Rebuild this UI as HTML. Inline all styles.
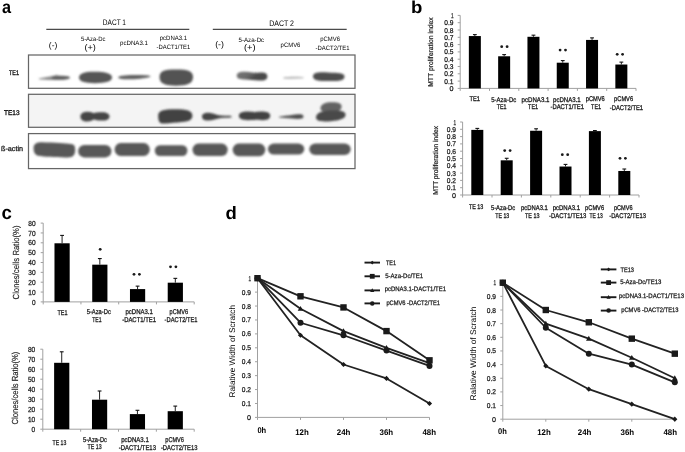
<!DOCTYPE html>
<html><head><meta charset="utf-8"><style>
html,body{margin:0;padding:0;background:#fff;width:685px;height:452px;overflow:hidden}
svg{display:block;font-family:"Liberation Sans", sans-serif;will-change:transform;text-rendering:geometricPrecision}
</style></head><body>
<svg width="685" height="452" viewBox="0 0 685 452">
<defs><linearGradient id="g1" x1="0" y1="0" x2="1" y2="0.3"><stop offset="0" stop-color="#777"/><stop offset="0.45" stop-color="#6a6a6a"/><stop offset="0.7" stop-color="#4c4c4c"/><stop offset="1" stop-color="#484848"/></linearGradient><filter id="bl" x="-20%" y="-50%" width="140%" height="200%"><feGaussianBlur stdDeviation="0.9"/></filter></defs>
<rect width="685" height="452" fill="#fff"/>
<text x="0" y="0" font-size="18.5" font-weight="bold" fill="#000" transform="translate(2.1 12.9) scale(0.88 0.96)">a</text>
<text x="102.80" y="24.80" font-size="8" textLength="23.20" lengthAdjust="spacingAndGlyphs">DACT 1</text>
<text x="269.20" y="26.00" font-size="8" textLength="24.80" lengthAdjust="spacingAndGlyphs">DACT 2</text>
<line x1="46.30" y1="29.30" x2="189.30" y2="29.30" stroke="#4a4a4a" stroke-width="1.2"/>
<line x1="212.80" y1="29.30" x2="346.70" y2="29.30" stroke="#4a4a4a" stroke-width="1.2"/>
<text x="48.80" y="47.60" font-size="8.2" textLength="8.50" lengthAdjust="spacingAndGlyphs">(-)</text>
<text x="80.90" y="40.60" font-size="6.3" textLength="24.50" lengthAdjust="spacingAndGlyphs">5-Aza-Dc</text>
<text x="84.40" y="49.90" font-size="8.2" textLength="11.40" lengthAdjust="spacingAndGlyphs">(+)</text>
<text x="120.10" y="44.60" font-size="6.3" textLength="27.80" lengthAdjust="spacingAndGlyphs">pcDNA3.1</text>
<text x="159.70" y="40.00" font-size="6.3" textLength="27.40" lengthAdjust="spacingAndGlyphs">pcDNA3.1</text>
<text x="156.60" y="48.70" font-size="6.3" textLength="33.60" lengthAdjust="spacingAndGlyphs">-DACT1/TE1</text>
<text x="215.20" y="47.00" font-size="8.2" textLength="8.80" lengthAdjust="spacingAndGlyphs">(-)</text>
<text x="238.50" y="42.00" font-size="6.3" textLength="25.70" lengthAdjust="spacingAndGlyphs">5-Aza-Dc</text>
<text x="243.90" y="50.30" font-size="8.2" textLength="11.70" lengthAdjust="spacingAndGlyphs">(+)</text>
<text x="280.60" y="47.40" font-size="6.3" textLength="19.80" lengthAdjust="spacingAndGlyphs">pCMV6</text>
<text x="320.30" y="41.00" font-size="6.3" textLength="19.70" lengthAdjust="spacingAndGlyphs">pCMV6</text>
<text x="315.60" y="49.70" font-size="6.3" textLength="33.90" lengthAdjust="spacingAndGlyphs">-DACT2/TE1</text>
<text x="9.00" y="74.50" font-size="6.7" fill="#1a1a1a" textLength="10.00" lengthAdjust="spacingAndGlyphs" stroke="#1a1a1a" stroke-width="0.35">TE1</text>
<text x="4.00" y="115.30" font-size="6.9" fill="#1a1a1a" textLength="15.50" lengthAdjust="spacingAndGlyphs" stroke="#1a1a1a" stroke-width="0.35">TE13</text>
<text x="1.00" y="151.20" font-size="7.2" fill="#1a1a1a" textLength="22.00" lengthAdjust="spacingAndGlyphs" stroke="#1a1a1a" stroke-width="0.3">ß-actin</text>
<rect x="28.5" y="55.0" width="326.5" height="33.3" fill="#fff" stroke="#666" stroke-width="1.25"/>
<rect x="28.5" y="94.3" width="326.5" height="33.0" fill="#f4f4f4" stroke="#666" stroke-width="1.25"/>
<rect x="28.5" y="133.6" width="326.5" height="35.0" fill="#fff" stroke="#666" stroke-width="1.25"/>
<g filter="url(#bl)">
<path d="M38.8 78.4 C 44 77.6, 50 76.6, 55 75.6 C 56 74.6, 57 74.6, 58 75.6 C 63 75.8, 69 76.2, 69.9 77.6 C 70 79.0, 66 79.6, 60 79.8 C 52 80.0, 44 79.8, 38.8 79.2 Z" fill="#8a8a8a" opacity="1"/>
<path d="M52 76.6 C 58 75.6, 66 75.8, 69.9 77.0 C 70.2 78.6, 68 79.6, 60 79.8 C 55 79.9, 52 79.4, 52 78.3 Z" fill="#5e5e5e" opacity="1"/>
<path d="M79.0 77.6 C 79.0 73.6, 84 71.8, 94 71.8 C 106 71.8, 112 73.8, 112 77.6 C 112 81.4, 106 83.2, 95 83.2 C 84 83.2, 79.0 81.4, 79.0 77.6 Z" fill="#555" opacity="1"/>
<path d="M118.2 77.6 C 118.2 75.8, 124 75.0, 134 74.9 C 143 74.8, 150.5 75.2, 150.5 76.2 C 150.5 77.4, 143 78.6, 134 79.2 C 124 79.6, 118.2 79.2, 118.2 77.6 Z" fill="#606060" opacity="1"/>
<path d="M159.5 77.0 C 159.5 71.0, 164 69.4, 176 69.4 C 188 69.4, 193.0 71.0, 193.0 77.0 C 193.0 83.6, 187 85.7, 176 85.7 C 165 85.7, 159.5 83.6, 159.5 77.0 Z" fill="#525252" opacity="1"/>
<path d="M236.8 75.6 C 236.8 72.4, 240 71.4, 246 71.8 C 252 72.4, 256 73.2, 260 72.6 C 265 72.0, 267.4 73.6, 267.4 76.4 C 267.4 79.6, 264 80.8, 259 80.6 C 254 80.2, 250 79.4, 245 79.4 C 239 79.6, 236.8 78.6, 236.8 75.6 Z" fill="url(#g1)" opacity="1"/>
<path d="M283.3 77.4 C 289 76.5, 297 76.6, 303.6 77.2 L 303.6 78.3 C 297 78.8, 289 78.8, 283.3 78.4 Z" fill="#b4b4b4" opacity="1"/>
<path d="M313.0 76.4 C 313.0 72.8, 317 71.8, 328 72.4 C 338 72.8, 344.5 72.6, 344.5 76.4 C 344.5 80.4, 340 81.2, 329 81.0 C 318 81.0, 313.0 80.2, 313.0 76.4 Z" fill="#4e4e4e" opacity="1"/>
<path d="M80.4 116.6 C 80.4 113.0, 84 111.7, 88 111.7 C 91 111.7, 92.5 112.6, 93.6 113.2 C 95 112.4, 98 112.2, 102 112.2 C 107 112.2, 109.5 114.0, 109.5 116.4 C 109.5 119.0, 107 120.6, 102 120.6 C 98 120.6, 95 120.1, 93.6 119.6 C 92 120.6, 90 121.6, 87 121.6 C 83 121.6, 80.4 119.8, 80.4 116.6 Z" fill="#444" opacity="1"/>
<path d="M158.2 115.4 C 158.2 110.6, 163 109.2, 175 109.2 C 187 109.2, 192.4 110.6, 192.4 115.6 C 192.4 120.6, 188 122.0, 178 122.4 C 170 122.8, 165 123.8, 162 123.5 C 159 123.0, 158.2 120.0, 158.2 115.4 Z" fill="#434343" opacity="1"/>
<path d="M202.0 116.6 C 202.0 113.6, 205 112.6, 209 112.8 C 213 113.2, 216 115.0, 221 115.6 C 226 115.9, 230 115.9, 231.4 116.0 L 231.4 117.6 C 230 117.7, 226 117.7, 221 118.0 C 216 118.8, 213 120.4, 208 120.6 C 204 120.8, 202.0 119.4, 202.0 116.6 Z" fill="#444" opacity="1"/>
<path d="M238.9 115.8 C 238.9 112.6, 243 111.4, 249 111.6 C 252 111.8, 254 112.1, 255 112.2 C 256.5 111.8, 259 111.6, 263 111.6 C 268 111.8, 270.2 113.4, 270.2 115.8 C 270.2 118.6, 268 120.2, 263 120.2 C 259 120.2, 256.5 119.9, 255 119.8 C 253.5 120.0, 251 120.2, 248 120.2 C 242 120.2, 238.9 118.8, 238.9 115.8 Z" fill="#424242" opacity="1"/>
<path d="M279.0 116.8 C 283 115.9, 288 115.6, 292 115.0 C 295 114.2, 299 114.0, 302 114.6 C 304 115.4, 304 118.0, 302 118.6 C 299 119.2, 295 119.0, 292 118.6 C 288 118.0, 283 117.9, 279.0 117.6 Z" fill="#4e4e4e" opacity="1"/>
<path d="M320.5 108.0 C 321 104.0, 325 102.4, 332 102.3 C 338 102.2, 341.6 103.2, 341.6 106.4 C 341.6 110.0, 338 112.0, 331 112.4 C 324 112.8, 320.2 111.4, 320.5 108.0 Z" fill="#636363" opacity="1"/>
<path d="M316.0 117.6 C 316.0 113.2, 321 111.2, 330 110.6 C 339 110.0, 345.6 110.4, 345.6 114.6 C 345.6 118.6, 340 120.6, 331 121.2 C 322 121.8, 316.0 121.6, 316.0 117.6 Z" fill="#4a4a4a" opacity="1"/>
<path d="M33.6 148.0 C 33.6 143.5, 37 142.3, 42 142.3 C 55 142.6, 66 143.4, 71 144.0 C 75 144.5, 75.2 147, 75.2 150 C 75.2 155.0, 73 157.4, 68 157.4 C 58 157.6, 45 156.8, 38 155.8 C 34.5 154.2, 33.6 152, 33.6 148.0 Z" fill="#585858" opacity="1"/>
<rect x="78.20" y="145.00" width="33.20" height="12.40" rx="6.00" ry="6.20" fill="#585858" opacity="1"/>
<rect x="114.60" y="143.00" width="35.20" height="13.00" rx="6.00" ry="6.50" fill="#585858" opacity="1"/>
<rect x="154.80" y="145.20" width="32.60" height="10.80" rx="5.00" ry="5.40" fill="#5a5a5a" opacity="1"/>
<rect x="192.50" y="143.60" width="35.20" height="12.40" rx="6.00" ry="6.20" fill="#585858" opacity="1"/>
<rect x="232.70" y="143.60" width="32.60" height="12.60" rx="6.00" ry="6.30" fill="#585858" opacity="1"/>
<rect x="267.90" y="143.60" width="36.40" height="11.00" rx="6.00" ry="5.50" fill="#585858" opacity="1"/>
<rect x="309.30" y="143.60" width="41.40" height="11.40" rx="6.00" ry="5.70" fill="#585858" opacity="1"/>
</g>
<text x="0" y="0" font-size="17.2" font-weight="bold" fill="#000" transform="translate(411.0 13.2) scale(1.08 1.0)">b</text>
<line x1="460.20" y1="15.40" x2="460.20" y2="88.40" stroke="#a0a0a0" stroke-width="1"/>
<line x1="457.70" y1="88.40" x2="460.20" y2="88.40" stroke="#a0a0a0" stroke-width="1"/>
<text x="453.50" y="90.92" font-size="7.0" text-anchor="end" fill="#1a1a1a" textLength="4.00" lengthAdjust="spacingAndGlyphs" stroke="#1a1a1a" stroke-width="0.25">0</text>
<line x1="457.70" y1="81.10" x2="460.20" y2="81.10" stroke="#a0a0a0" stroke-width="1"/>
<text x="453.50" y="83.62" font-size="7.0" text-anchor="end" fill="#1a1a1a" textLength="9.20" lengthAdjust="spacingAndGlyphs" stroke="#1a1a1a" stroke-width="0.25">0.1</text>
<line x1="457.70" y1="73.80" x2="460.20" y2="73.80" stroke="#a0a0a0" stroke-width="1"/>
<text x="453.50" y="76.32" font-size="7.0" text-anchor="end" fill="#1a1a1a" textLength="9.20" lengthAdjust="spacingAndGlyphs" stroke="#1a1a1a" stroke-width="0.25">0.2</text>
<line x1="457.70" y1="66.50" x2="460.20" y2="66.50" stroke="#a0a0a0" stroke-width="1"/>
<text x="453.50" y="69.02" font-size="7.0" text-anchor="end" fill="#1a1a1a" textLength="9.20" lengthAdjust="spacingAndGlyphs" stroke="#1a1a1a" stroke-width="0.25">0.3</text>
<line x1="457.70" y1="59.20" x2="460.20" y2="59.20" stroke="#a0a0a0" stroke-width="1"/>
<text x="453.50" y="61.72" font-size="7.0" text-anchor="end" fill="#1a1a1a" textLength="9.20" lengthAdjust="spacingAndGlyphs" stroke="#1a1a1a" stroke-width="0.25">0.4</text>
<line x1="457.70" y1="51.90" x2="460.20" y2="51.90" stroke="#a0a0a0" stroke-width="1"/>
<text x="453.50" y="54.42" font-size="7.0" text-anchor="end" fill="#1a1a1a" textLength="9.20" lengthAdjust="spacingAndGlyphs" stroke="#1a1a1a" stroke-width="0.25">0.5</text>
<line x1="457.70" y1="44.60" x2="460.20" y2="44.60" stroke="#a0a0a0" stroke-width="1"/>
<text x="453.50" y="47.12" font-size="7.0" text-anchor="end" fill="#1a1a1a" textLength="9.20" lengthAdjust="spacingAndGlyphs" stroke="#1a1a1a" stroke-width="0.25">0.6</text>
<line x1="457.70" y1="37.30" x2="460.20" y2="37.30" stroke="#a0a0a0" stroke-width="1"/>
<text x="453.50" y="39.82" font-size="7.0" text-anchor="end" fill="#1a1a1a" textLength="9.20" lengthAdjust="spacingAndGlyphs" stroke="#1a1a1a" stroke-width="0.25">0.7</text>
<line x1="457.70" y1="30.00" x2="460.20" y2="30.00" stroke="#a0a0a0" stroke-width="1"/>
<text x="453.50" y="32.52" font-size="7.0" text-anchor="end" fill="#1a1a1a" textLength="9.20" lengthAdjust="spacingAndGlyphs" stroke="#1a1a1a" stroke-width="0.25">0.8</text>
<line x1="457.70" y1="22.70" x2="460.20" y2="22.70" stroke="#a0a0a0" stroke-width="1"/>
<text x="453.50" y="25.22" font-size="7.0" text-anchor="end" fill="#1a1a1a" textLength="9.20" lengthAdjust="spacingAndGlyphs" stroke="#1a1a1a" stroke-width="0.25">0.9</text>
<line x1="457.70" y1="15.40" x2="460.20" y2="15.40" stroke="#a0a0a0" stroke-width="1"/>
<text x="453.50" y="17.92" font-size="7.0" text-anchor="end" fill="#1a1a1a" textLength="2.60" lengthAdjust="spacingAndGlyphs" stroke="#1a1a1a" stroke-width="0.25">1</text>
<line x1="460.20" y1="88.40" x2="636.00" y2="88.40" stroke="#a0a0a0" stroke-width="1"/>
<line x1="460.20" y1="88.40" x2="460.20" y2="90.90" stroke="#a0a0a0" stroke-width="1"/>
<line x1="489.50" y1="88.40" x2="489.50" y2="90.90" stroke="#a0a0a0" stroke-width="1"/>
<line x1="518.80" y1="88.40" x2="518.80" y2="90.90" stroke="#a0a0a0" stroke-width="1"/>
<line x1="548.10" y1="88.40" x2="548.10" y2="90.90" stroke="#a0a0a0" stroke-width="1"/>
<line x1="577.40" y1="88.40" x2="577.40" y2="90.90" stroke="#a0a0a0" stroke-width="1"/>
<line x1="606.70" y1="88.40" x2="606.70" y2="90.90" stroke="#a0a0a0" stroke-width="1"/>
<line x1="636.00" y1="88.40" x2="636.00" y2="90.90" stroke="#a0a0a0" stroke-width="1"/>
<rect x="468.85" y="36.06" width="12.00" height="52.34" fill="#000"/>
<line x1="474.85" y1="34.60" x2="474.85" y2="36.06" stroke="#222" stroke-width="1.0"/>
<line x1="472.95" y1="34.60" x2="476.75" y2="34.60" stroke="#111" stroke-width="1.1"/>
<rect x="498.15" y="56.28" width="12.00" height="32.12" fill="#000"/>
<line x1="504.15" y1="54.60" x2="504.15" y2="56.28" stroke="#222" stroke-width="1.0"/>
<line x1="502.25" y1="54.60" x2="506.05" y2="54.60" stroke="#111" stroke-width="1.1"/>
<rect x="527.45" y="36.79" width="12.00" height="51.61" fill="#000"/>
<line x1="533.45" y1="35.18" x2="533.45" y2="36.79" stroke="#222" stroke-width="1.0"/>
<line x1="531.55" y1="35.18" x2="535.35" y2="35.18" stroke="#111" stroke-width="1.1"/>
<rect x="556.75" y="62.70" width="12.00" height="25.70" fill="#000"/>
<line x1="562.75" y1="60.59" x2="562.75" y2="62.70" stroke="#222" stroke-width="1.0"/>
<line x1="560.85" y1="60.59" x2="564.65" y2="60.59" stroke="#111" stroke-width="1.1"/>
<rect x="586.05" y="39.93" width="12.00" height="48.47" fill="#000"/>
<line x1="592.05" y1="37.88" x2="592.05" y2="39.93" stroke="#222" stroke-width="1.0"/>
<line x1="590.15" y1="37.88" x2="593.95" y2="37.88" stroke="#111" stroke-width="1.1"/>
<rect x="615.35" y="64.53" width="12.00" height="23.87" fill="#000"/>
<line x1="621.35" y1="62.12" x2="621.35" y2="64.53" stroke="#222" stroke-width="1.0"/>
<line x1="619.45" y1="62.12" x2="623.25" y2="62.12" stroke="#111" stroke-width="1.1"/>
<text x="433.20" y="52.00" font-size="7.0" text-anchor="middle" fill="#1a1a1a" textLength="69.60" lengthAdjust="spacingAndGlyphs" transform="rotate(-90 433.20 52.00)" stroke="#1a1a1a" stroke-width="0.2">MTT proliferation index</text>
<line x1="462.60" y1="122.00" x2="462.60" y2="195.00" stroke="#a0a0a0" stroke-width="1"/>
<line x1="460.10" y1="195.00" x2="462.60" y2="195.00" stroke="#a0a0a0" stroke-width="1"/>
<text x="456.00" y="197.52" font-size="7.0" text-anchor="end" fill="#1a1a1a" textLength="4.00" lengthAdjust="spacingAndGlyphs" stroke="#1a1a1a" stroke-width="0.25">0</text>
<line x1="460.10" y1="187.70" x2="462.60" y2="187.70" stroke="#a0a0a0" stroke-width="1"/>
<text x="456.00" y="190.22" font-size="7.0" text-anchor="end" fill="#1a1a1a" textLength="9.20" lengthAdjust="spacingAndGlyphs" stroke="#1a1a1a" stroke-width="0.25">0.1</text>
<line x1="460.10" y1="180.40" x2="462.60" y2="180.40" stroke="#a0a0a0" stroke-width="1"/>
<text x="456.00" y="182.92" font-size="7.0" text-anchor="end" fill="#1a1a1a" textLength="9.20" lengthAdjust="spacingAndGlyphs" stroke="#1a1a1a" stroke-width="0.25">0.2</text>
<line x1="460.10" y1="173.10" x2="462.60" y2="173.10" stroke="#a0a0a0" stroke-width="1"/>
<text x="456.00" y="175.62" font-size="7.0" text-anchor="end" fill="#1a1a1a" textLength="9.20" lengthAdjust="spacingAndGlyphs" stroke="#1a1a1a" stroke-width="0.25">0.3</text>
<line x1="460.10" y1="165.80" x2="462.60" y2="165.80" stroke="#a0a0a0" stroke-width="1"/>
<text x="456.00" y="168.32" font-size="7.0" text-anchor="end" fill="#1a1a1a" textLength="9.20" lengthAdjust="spacingAndGlyphs" stroke="#1a1a1a" stroke-width="0.25">0.4</text>
<line x1="460.10" y1="158.50" x2="462.60" y2="158.50" stroke="#a0a0a0" stroke-width="1"/>
<text x="456.00" y="161.02" font-size="7.0" text-anchor="end" fill="#1a1a1a" textLength="9.20" lengthAdjust="spacingAndGlyphs" stroke="#1a1a1a" stroke-width="0.25">0.5</text>
<line x1="460.10" y1="151.20" x2="462.60" y2="151.20" stroke="#a0a0a0" stroke-width="1"/>
<text x="456.00" y="153.72" font-size="7.0" text-anchor="end" fill="#1a1a1a" textLength="9.20" lengthAdjust="spacingAndGlyphs" stroke="#1a1a1a" stroke-width="0.25">0.6</text>
<line x1="460.10" y1="143.90" x2="462.60" y2="143.90" stroke="#a0a0a0" stroke-width="1"/>
<text x="456.00" y="146.42" font-size="7.0" text-anchor="end" fill="#1a1a1a" textLength="9.20" lengthAdjust="spacingAndGlyphs" stroke="#1a1a1a" stroke-width="0.25">0.7</text>
<line x1="460.10" y1="136.60" x2="462.60" y2="136.60" stroke="#a0a0a0" stroke-width="1"/>
<text x="456.00" y="139.12" font-size="7.0" text-anchor="end" fill="#1a1a1a" textLength="9.20" lengthAdjust="spacingAndGlyphs" stroke="#1a1a1a" stroke-width="0.25">0.8</text>
<line x1="460.10" y1="129.30" x2="462.60" y2="129.30" stroke="#a0a0a0" stroke-width="1"/>
<text x="456.00" y="131.82" font-size="7.0" text-anchor="end" fill="#1a1a1a" textLength="9.20" lengthAdjust="spacingAndGlyphs" stroke="#1a1a1a" stroke-width="0.25">0.9</text>
<line x1="460.10" y1="122.00" x2="462.60" y2="122.00" stroke="#a0a0a0" stroke-width="1"/>
<text x="456.00" y="124.52" font-size="7.0" text-anchor="end" fill="#1a1a1a" textLength="2.60" lengthAdjust="spacingAndGlyphs" stroke="#1a1a1a" stroke-width="0.25">1</text>
<line x1="462.60" y1="195.00" x2="639.00" y2="195.00" stroke="#a0a0a0" stroke-width="1"/>
<line x1="462.60" y1="195.00" x2="462.60" y2="197.50" stroke="#a0a0a0" stroke-width="1"/>
<line x1="492.00" y1="195.00" x2="492.00" y2="197.50" stroke="#a0a0a0" stroke-width="1"/>
<line x1="521.40" y1="195.00" x2="521.40" y2="197.50" stroke="#a0a0a0" stroke-width="1"/>
<line x1="550.80" y1="195.00" x2="550.80" y2="197.50" stroke="#a0a0a0" stroke-width="1"/>
<line x1="580.20" y1="195.00" x2="580.20" y2="197.50" stroke="#a0a0a0" stroke-width="1"/>
<line x1="609.60" y1="195.00" x2="609.60" y2="197.50" stroke="#a0a0a0" stroke-width="1"/>
<line x1="639.00" y1="195.00" x2="639.00" y2="197.50" stroke="#a0a0a0" stroke-width="1"/>
<rect x="471.30" y="129.88" width="12.00" height="65.12" fill="#000"/>
<line x1="477.30" y1="128.42" x2="477.30" y2="129.88" stroke="#222" stroke-width="1.0"/>
<line x1="475.40" y1="128.42" x2="479.20" y2="128.42" stroke="#111" stroke-width="1.1"/>
<rect x="500.70" y="160.32" width="12.00" height="34.68" fill="#000"/>
<line x1="506.70" y1="158.28" x2="506.70" y2="160.32" stroke="#222" stroke-width="1.0"/>
<line x1="504.80" y1="158.28" x2="508.60" y2="158.28" stroke="#111" stroke-width="1.1"/>
<rect x="530.10" y="130.76" width="12.00" height="64.24" fill="#000"/>
<line x1="536.10" y1="128.79" x2="536.10" y2="130.76" stroke="#222" stroke-width="1.0"/>
<line x1="534.20" y1="128.79" x2="538.00" y2="128.79" stroke="#111" stroke-width="1.1"/>
<rect x="559.50" y="166.53" width="12.00" height="28.47" fill="#000"/>
<line x1="565.50" y1="164.41" x2="565.50" y2="166.53" stroke="#222" stroke-width="1.0"/>
<line x1="563.60" y1="164.41" x2="567.40" y2="164.41" stroke="#111" stroke-width="1.1"/>
<rect x="588.90" y="131.12" width="12.00" height="63.88" fill="#000"/>
<line x1="594.90" y1="130.54" x2="594.90" y2="131.12" stroke="#222" stroke-width="1.0"/>
<line x1="593.00" y1="130.54" x2="596.80" y2="130.54" stroke="#111" stroke-width="1.1"/>
<rect x="618.30" y="170.98" width="12.00" height="24.02" fill="#000"/>
<line x1="624.30" y1="169.01" x2="624.30" y2="170.98" stroke="#222" stroke-width="1.0"/>
<line x1="622.40" y1="169.01" x2="626.20" y2="169.01" stroke="#111" stroke-width="1.1"/>
<text x="438.50" y="160.30" font-size="7.0" text-anchor="middle" fill="#1a1a1a" textLength="69.00" lengthAdjust="spacingAndGlyphs" transform="rotate(-90 438.50 160.30)" stroke="#1a1a1a" stroke-width="0.2">MTT proliferation index</text>
<circle cx="501.70" cy="46.70" r="1.4" fill="#1a1a1a"/>
<circle cx="507.10" cy="46.70" r="1.4" fill="#1a1a1a"/>
<circle cx="560.10" cy="50.10" r="1.4" fill="#1a1a1a"/>
<circle cx="565.50" cy="50.10" r="1.4" fill="#1a1a1a"/>
<circle cx="617.20" cy="54.30" r="1.4" fill="#1a1a1a"/>
<circle cx="622.60" cy="54.30" r="1.4" fill="#1a1a1a"/>
<circle cx="504.70" cy="150.60" r="1.4" fill="#1a1a1a"/>
<circle cx="510.10" cy="150.60" r="1.4" fill="#1a1a1a"/>
<circle cx="562.30" cy="154.70" r="1.4" fill="#1a1a1a"/>
<circle cx="567.70" cy="154.70" r="1.4" fill="#1a1a1a"/>
<circle cx="620.00" cy="158.30" r="1.4" fill="#1a1a1a"/>
<circle cx="625.40" cy="158.30" r="1.4" fill="#1a1a1a"/>
<text x="469.50" y="100.80" font-size="6.8" fill="#1e1e1e" textLength="10.50" lengthAdjust="spacingAndGlyphs" stroke="#1e1e1e" stroke-width="0.3">TE1</text>
<text x="491.30" y="101.50" font-size="6.8" fill="#1e1e1e" textLength="24.90" lengthAdjust="spacingAndGlyphs" stroke="#1e1e1e" stroke-width="0.3">5-Aza-Dc</text>
<text x="496.80" y="109.40" font-size="6.8" fill="#1e1e1e" textLength="9.80" lengthAdjust="spacingAndGlyphs" stroke="#1e1e1e" stroke-width="0.3">TE1</text>
<text x="521.60" y="101.50" font-size="6.8" fill="#1e1e1e" textLength="27.80" lengthAdjust="spacingAndGlyphs" stroke="#1e1e1e" stroke-width="0.3">pcDNA3.1</text>
<text x="528.10" y="109.20" font-size="6.8" fill="#1e1e1e" textLength="9.90" lengthAdjust="spacingAndGlyphs" stroke="#1e1e1e" stroke-width="0.3">TE1</text>
<text x="553.10" y="101.50" font-size="6.8" fill="#1e1e1e" textLength="27.60" lengthAdjust="spacingAndGlyphs" stroke="#1e1e1e" stroke-width="0.3">pcDNA3.1</text>
<text x="550.50" y="109.30" font-size="6.8" fill="#1e1e1e" textLength="33.50" lengthAdjust="spacingAndGlyphs" stroke="#1e1e1e" stroke-width="0.3">-DACT1/TE1</text>
<text x="585.80" y="101.40" font-size="6.8" fill="#1e1e1e" textLength="19.00" lengthAdjust="spacingAndGlyphs" stroke="#1e1e1e" stroke-width="0.3">pCMV6</text>
<text x="591.10" y="109.30" font-size="6.8" fill="#1e1e1e" textLength="9.90" lengthAdjust="spacingAndGlyphs" stroke="#1e1e1e" stroke-width="0.3">TE1</text>
<text x="614.10" y="101.40" font-size="6.8" fill="#1e1e1e" textLength="19.00" lengthAdjust="spacingAndGlyphs" stroke="#1e1e1e" stroke-width="0.3">pCMV6</text>
<text x="609.80" y="109.50" font-size="6.8" fill="#1e1e1e" textLength="33.30" lengthAdjust="spacingAndGlyphs" stroke="#1e1e1e" stroke-width="0.3">-DACT2/TE1</text>
<text x="468.90" y="209.00" font-size="6.8" fill="#1e1e1e" textLength="14.50" lengthAdjust="spacingAndGlyphs" stroke="#1e1e1e" stroke-width="0.3">TE 13</text>
<text x="490.90" y="209.80" font-size="6.8" fill="#1e1e1e" textLength="24.30" lengthAdjust="spacingAndGlyphs" stroke="#1e1e1e" stroke-width="0.3">5-Aza-Dc</text>
<text x="495.20" y="217.80" font-size="6.8" fill="#1e1e1e" textLength="14.10" lengthAdjust="spacingAndGlyphs" stroke="#1e1e1e" stroke-width="0.3">TE 13</text>
<text x="521.10" y="209.60" font-size="6.8" fill="#1e1e1e" textLength="26.70" lengthAdjust="spacingAndGlyphs" stroke="#1e1e1e" stroke-width="0.3">pcDNA3.1</text>
<text x="525.00" y="217.80" font-size="6.8" fill="#1e1e1e" textLength="14.50" lengthAdjust="spacingAndGlyphs" stroke="#1e1e1e" stroke-width="0.3">TE 13</text>
<text x="552.70" y="209.60" font-size="6.8" fill="#1e1e1e" textLength="27.30" lengthAdjust="spacingAndGlyphs" stroke="#1e1e1e" stroke-width="0.3">pcDNA3.1</text>
<text x="549.00" y="217.90" font-size="6.8" fill="#1e1e1e" textLength="37.40" lengthAdjust="spacingAndGlyphs" stroke="#1e1e1e" stroke-width="0.3">-DACT1/TE13</text>
<text x="585.10" y="209.60" font-size="6.8" fill="#1e1e1e" textLength="19.00" lengthAdjust="spacingAndGlyphs" stroke="#1e1e1e" stroke-width="0.3">pCMV6</text>
<text x="589.60" y="217.90" font-size="6.8" fill="#1e1e1e" textLength="13.20" lengthAdjust="spacingAndGlyphs" stroke="#1e1e1e" stroke-width="0.3">TE 13</text>
<text x="614.00" y="209.60" font-size="6.8" fill="#1e1e1e" textLength="18.50" lengthAdjust="spacingAndGlyphs" stroke="#1e1e1e" stroke-width="0.3">pCMV6</text>
<text x="609.20" y="217.90" font-size="6.8" fill="#1e1e1e" textLength="36.70" lengthAdjust="spacingAndGlyphs" stroke="#1e1e1e" stroke-width="0.3">-DACT2/TE13</text>
<text x="0" y="0" font-size="19" font-weight="bold" fill="#000" transform="translate(1.6 219.0) scale(0.98 1.0)">c</text>
<line x1="43.20" y1="223.10" x2="43.20" y2="301.90" stroke="#a0a0a0" stroke-width="1"/>
<line x1="40.70" y1="301.90" x2="43.20" y2="301.90" stroke="#a0a0a0" stroke-width="1"/>
<text x="35.60" y="304.53" font-size="7.3" text-anchor="end" fill="#1a1a1a" textLength="3.60" lengthAdjust="spacingAndGlyphs" stroke="#1a1a1a" stroke-width="0.25">0</text>
<line x1="40.70" y1="292.05" x2="43.20" y2="292.05" stroke="#a0a0a0" stroke-width="1"/>
<text x="35.60" y="294.68" font-size="7.3" text-anchor="end" fill="#1a1a1a" textLength="7.30" lengthAdjust="spacingAndGlyphs" stroke="#1a1a1a" stroke-width="0.25">10</text>
<line x1="40.70" y1="282.20" x2="43.20" y2="282.20" stroke="#a0a0a0" stroke-width="1"/>
<text x="35.60" y="284.83" font-size="7.3" text-anchor="end" fill="#1a1a1a" textLength="7.30" lengthAdjust="spacingAndGlyphs" stroke="#1a1a1a" stroke-width="0.25">20</text>
<line x1="40.70" y1="272.35" x2="43.20" y2="272.35" stroke="#a0a0a0" stroke-width="1"/>
<text x="35.60" y="274.98" font-size="7.3" text-anchor="end" fill="#1a1a1a" textLength="7.30" lengthAdjust="spacingAndGlyphs" stroke="#1a1a1a" stroke-width="0.25">30</text>
<line x1="40.70" y1="262.50" x2="43.20" y2="262.50" stroke="#a0a0a0" stroke-width="1"/>
<text x="35.60" y="265.13" font-size="7.3" text-anchor="end" fill="#1a1a1a" textLength="7.30" lengthAdjust="spacingAndGlyphs" stroke="#1a1a1a" stroke-width="0.25">40</text>
<line x1="40.70" y1="252.65" x2="43.20" y2="252.65" stroke="#a0a0a0" stroke-width="1"/>
<text x="35.60" y="255.28" font-size="7.3" text-anchor="end" fill="#1a1a1a" textLength="7.30" lengthAdjust="spacingAndGlyphs" stroke="#1a1a1a" stroke-width="0.25">50</text>
<line x1="40.70" y1="242.80" x2="43.20" y2="242.80" stroke="#a0a0a0" stroke-width="1"/>
<text x="35.60" y="245.43" font-size="7.3" text-anchor="end" fill="#1a1a1a" textLength="7.30" lengthAdjust="spacingAndGlyphs" stroke="#1a1a1a" stroke-width="0.25">60</text>
<line x1="40.70" y1="232.95" x2="43.20" y2="232.95" stroke="#a0a0a0" stroke-width="1"/>
<text x="35.60" y="235.58" font-size="7.3" text-anchor="end" fill="#1a1a1a" textLength="7.30" lengthAdjust="spacingAndGlyphs" stroke="#1a1a1a" stroke-width="0.25">70</text>
<line x1="40.70" y1="223.10" x2="43.20" y2="223.10" stroke="#a0a0a0" stroke-width="1"/>
<text x="35.60" y="225.73" font-size="7.3" text-anchor="end" fill="#1a1a1a" textLength="7.30" lengthAdjust="spacingAndGlyphs" stroke="#1a1a1a" stroke-width="0.25">80</text>
<line x1="43.20" y1="301.90" x2="194.20" y2="301.90" stroke="#a0a0a0" stroke-width="1"/>
<line x1="43.20" y1="301.90" x2="43.20" y2="304.40" stroke="#a0a0a0" stroke-width="1"/>
<line x1="80.95" y1="301.90" x2="80.95" y2="304.40" stroke="#a0a0a0" stroke-width="1"/>
<line x1="118.70" y1="301.90" x2="118.70" y2="304.40" stroke="#a0a0a0" stroke-width="1"/>
<line x1="156.45" y1="301.90" x2="156.45" y2="304.40" stroke="#a0a0a0" stroke-width="1"/>
<line x1="194.20" y1="301.90" x2="194.20" y2="304.40" stroke="#a0a0a0" stroke-width="1"/>
<rect x="54.48" y="243.29" width="15.20" height="58.61" fill="#000"/>
<line x1="62.08" y1="235.41" x2="62.08" y2="243.29" stroke="#222" stroke-width="1.0"/>
<line x1="60.18" y1="235.41" x2="63.98" y2="235.41" stroke="#111" stroke-width="1.1"/>
<rect x="92.23" y="264.67" width="15.20" height="37.23" fill="#000"/>
<line x1="99.83" y1="258.56" x2="99.83" y2="264.67" stroke="#222" stroke-width="1.0"/>
<line x1="97.92" y1="258.56" x2="101.73" y2="258.56" stroke="#111" stroke-width="1.1"/>
<rect x="129.97" y="289.09" width="15.20" height="12.81" fill="#000"/>
<line x1="137.57" y1="286.14" x2="137.57" y2="289.09" stroke="#222" stroke-width="1.0"/>
<line x1="135.67" y1="286.14" x2="139.47" y2="286.14" stroke="#111" stroke-width="1.1"/>
<rect x="167.72" y="282.69" width="15.20" height="19.21" fill="#000"/>
<line x1="175.32" y1="278.36" x2="175.32" y2="282.69" stroke="#222" stroke-width="1.0"/>
<line x1="173.42" y1="278.36" x2="177.22" y2="278.36" stroke="#111" stroke-width="1.1"/>
<text x="19.00" y="262.50" font-size="8.8" text-anchor="middle" fill="#1a1a1a" textLength="73.90" lengthAdjust="spacingAndGlyphs" transform="rotate(-90 19.00 262.50)" stroke="#1a1a1a" stroke-width="0.15">Clones/cells Ratio(%)</text>
<circle cx="100.20" cy="249.30" r="1.4" fill="#1a1a1a"/>
<circle cx="134.00" cy="274.30" r="1.4" fill="#1a1a1a"/>
<circle cx="139.40" cy="274.30" r="1.4" fill="#1a1a1a"/>
<circle cx="170.50" cy="266.80" r="1.4" fill="#1a1a1a"/>
<circle cx="175.90" cy="266.80" r="1.4" fill="#1a1a1a"/>
<text x="57.40" y="314.80" font-size="7.0" fill="#1e1e1e" textLength="10.10" lengthAdjust="spacingAndGlyphs" stroke="#1e1e1e" stroke-width="0.3">TE1</text>
<text x="86.70" y="314.00" font-size="7.0" fill="#1e1e1e" textLength="24.10" lengthAdjust="spacingAndGlyphs" stroke="#1e1e1e" stroke-width="0.3">5-Aza-Dc</text>
<text x="92.20" y="321.60" font-size="7.0" fill="#1e1e1e" textLength="9.30" lengthAdjust="spacingAndGlyphs" stroke="#1e1e1e" stroke-width="0.3">TE1</text>
<text x="125.50" y="313.80" font-size="7.0" fill="#1e1e1e" textLength="27.30" lengthAdjust="spacingAndGlyphs" stroke="#1e1e1e" stroke-width="0.3">pcDNA3.1</text>
<text x="122.20" y="322.20" font-size="7.0" fill="#1e1e1e" textLength="33.80" lengthAdjust="spacingAndGlyphs" stroke="#1e1e1e" stroke-width="0.3">-DACT1/TE1</text>
<text x="169.60" y="313.60" font-size="7.0" fill="#1e1e1e" textLength="18.60" lengthAdjust="spacingAndGlyphs" stroke="#1e1e1e" stroke-width="0.3">pCMV6</text>
<text x="164.60" y="322.20" font-size="7.0" fill="#1e1e1e" textLength="32.90" lengthAdjust="spacingAndGlyphs" stroke="#1e1e1e" stroke-width="0.3">-DACT2/TE1</text>
<line x1="42.80" y1="349.20" x2="42.80" y2="429.20" stroke="#a0a0a0" stroke-width="1"/>
<line x1="40.30" y1="429.20" x2="42.80" y2="429.20" stroke="#a0a0a0" stroke-width="1"/>
<text x="35.20" y="431.83" font-size="7.3" text-anchor="end" fill="#1a1a1a" textLength="3.60" lengthAdjust="spacingAndGlyphs" stroke="#1a1a1a" stroke-width="0.25">0</text>
<line x1="40.30" y1="419.20" x2="42.80" y2="419.20" stroke="#a0a0a0" stroke-width="1"/>
<text x="35.20" y="421.83" font-size="7.3" text-anchor="end" fill="#1a1a1a" textLength="7.30" lengthAdjust="spacingAndGlyphs" stroke="#1a1a1a" stroke-width="0.25">10</text>
<line x1="40.30" y1="409.20" x2="42.80" y2="409.20" stroke="#a0a0a0" stroke-width="1"/>
<text x="35.20" y="411.83" font-size="7.3" text-anchor="end" fill="#1a1a1a" textLength="7.30" lengthAdjust="spacingAndGlyphs" stroke="#1a1a1a" stroke-width="0.25">20</text>
<line x1="40.30" y1="399.20" x2="42.80" y2="399.20" stroke="#a0a0a0" stroke-width="1"/>
<text x="35.20" y="401.83" font-size="7.3" text-anchor="end" fill="#1a1a1a" textLength="7.30" lengthAdjust="spacingAndGlyphs" stroke="#1a1a1a" stroke-width="0.25">30</text>
<line x1="40.30" y1="389.20" x2="42.80" y2="389.20" stroke="#a0a0a0" stroke-width="1"/>
<text x="35.20" y="391.83" font-size="7.3" text-anchor="end" fill="#1a1a1a" textLength="7.30" lengthAdjust="spacingAndGlyphs" stroke="#1a1a1a" stroke-width="0.25">40</text>
<line x1="40.30" y1="379.20" x2="42.80" y2="379.20" stroke="#a0a0a0" stroke-width="1"/>
<text x="35.20" y="381.83" font-size="7.3" text-anchor="end" fill="#1a1a1a" textLength="7.30" lengthAdjust="spacingAndGlyphs" stroke="#1a1a1a" stroke-width="0.25">50</text>
<line x1="40.30" y1="369.20" x2="42.80" y2="369.20" stroke="#a0a0a0" stroke-width="1"/>
<text x="35.20" y="371.83" font-size="7.3" text-anchor="end" fill="#1a1a1a" textLength="7.30" lengthAdjust="spacingAndGlyphs" stroke="#1a1a1a" stroke-width="0.25">60</text>
<line x1="40.30" y1="359.20" x2="42.80" y2="359.20" stroke="#a0a0a0" stroke-width="1"/>
<text x="35.20" y="361.83" font-size="7.3" text-anchor="end" fill="#1a1a1a" textLength="7.30" lengthAdjust="spacingAndGlyphs" stroke="#1a1a1a" stroke-width="0.25">70</text>
<line x1="40.30" y1="349.20" x2="42.80" y2="349.20" stroke="#a0a0a0" stroke-width="1"/>
<text x="35.20" y="351.83" font-size="7.3" text-anchor="end" fill="#1a1a1a" textLength="7.30" lengthAdjust="spacingAndGlyphs" stroke="#1a1a1a" stroke-width="0.25">80</text>
<line x1="42.80" y1="429.20" x2="194.20" y2="429.20" stroke="#a0a0a0" stroke-width="1"/>
<line x1="42.80" y1="429.20" x2="42.80" y2="431.70" stroke="#a0a0a0" stroke-width="1"/>
<line x1="80.65" y1="429.20" x2="80.65" y2="431.70" stroke="#a0a0a0" stroke-width="1"/>
<line x1="118.50" y1="429.20" x2="118.50" y2="431.70" stroke="#a0a0a0" stroke-width="1"/>
<line x1="156.35" y1="429.20" x2="156.35" y2="431.70" stroke="#a0a0a0" stroke-width="1"/>
<line x1="194.20" y1="429.20" x2="194.20" y2="431.70" stroke="#a0a0a0" stroke-width="1"/>
<rect x="54.12" y="362.80" width="15.20" height="66.40" fill="#000"/>
<line x1="61.72" y1="351.80" x2="61.72" y2="362.80" stroke="#222" stroke-width="1.0"/>
<line x1="59.82" y1="351.80" x2="63.62" y2="351.80" stroke="#111" stroke-width="1.1"/>
<rect x="91.98" y="399.70" width="15.20" height="29.50" fill="#000"/>
<line x1="99.58" y1="391.00" x2="99.58" y2="399.70" stroke="#222" stroke-width="1.0"/>
<line x1="97.67" y1="391.00" x2="101.48" y2="391.00" stroke="#111" stroke-width="1.1"/>
<rect x="129.83" y="414.10" width="15.20" height="15.10" fill="#000"/>
<line x1="137.43" y1="410.30" x2="137.43" y2="414.10" stroke="#222" stroke-width="1.0"/>
<line x1="135.53" y1="410.30" x2="139.33" y2="410.30" stroke="#111" stroke-width="1.1"/>
<rect x="167.67" y="411.20" width="15.20" height="18.00" fill="#000"/>
<line x1="175.27" y1="406.10" x2="175.27" y2="411.20" stroke="#222" stroke-width="1.0"/>
<line x1="173.37" y1="406.10" x2="177.17" y2="406.10" stroke="#111" stroke-width="1.1"/>
<text x="18.20" y="388.00" font-size="8.8" text-anchor="middle" fill="#1a1a1a" textLength="72.80" lengthAdjust="spacingAndGlyphs" transform="rotate(-90 18.20 388.00)" stroke="#1a1a1a" stroke-width="0.15">Clones/cells Ratio(%)</text>
<text x="52.60" y="444.90" font-size="7.0" fill="#1e1e1e" textLength="13.70" lengthAdjust="spacingAndGlyphs" stroke="#1e1e1e" stroke-width="0.3">TE 13</text>
<text x="83.00" y="441.90" font-size="7.0" fill="#1e1e1e" textLength="23.90" lengthAdjust="spacingAndGlyphs" stroke="#1e1e1e" stroke-width="0.3">5-Aza-Dc</text>
<text x="87.60" y="449.30" font-size="7.0" fill="#1e1e1e" textLength="14.00" lengthAdjust="spacingAndGlyphs" stroke="#1e1e1e" stroke-width="0.3">TE 13</text>
<text x="121.20" y="441.80" font-size="7.0" fill="#1e1e1e" textLength="27.60" lengthAdjust="spacingAndGlyphs" stroke="#1e1e1e" stroke-width="0.3">pcDNA3.1</text>
<text x="118.70" y="450.00" font-size="7.0" fill="#1e1e1e" textLength="37.30" lengthAdjust="spacingAndGlyphs" stroke="#1e1e1e" stroke-width="0.3">-DACT1/TE13</text>
<text x="165.30" y="441.80" font-size="7.0" fill="#1e1e1e" textLength="18.60" lengthAdjust="spacingAndGlyphs" stroke="#1e1e1e" stroke-width="0.3">pCMV6</text>
<text x="160.90" y="450.00" font-size="7.0" fill="#1e1e1e" textLength="36.60" lengthAdjust="spacingAndGlyphs" stroke="#1e1e1e" stroke-width="0.3">-DACT2/TE13</text>
<text x="0" y="0" font-size="17.8" font-weight="bold" fill="#000" transform="translate(225.6 219.0) scale(1.04 1.0)">d</text>
<line x1="257.50" y1="278.20" x2="257.50" y2="417.40" stroke="#a0a0a0" stroke-width="1"/>
<line x1="255.00" y1="417.40" x2="257.50" y2="417.40" stroke="#a0a0a0" stroke-width="1"/>
<text x="251.00" y="419.90" font-size="7.0" text-anchor="end" fill="#1a1a1a" textLength="4.00" lengthAdjust="spacingAndGlyphs" stroke="#1a1a1a" stroke-width="0.25">0</text>
<line x1="255.00" y1="403.48" x2="257.50" y2="403.48" stroke="#a0a0a0" stroke-width="1"/>
<text x="251.00" y="405.98" font-size="7.0" text-anchor="end" fill="#1a1a1a" textLength="9.20" lengthAdjust="spacingAndGlyphs" stroke="#1a1a1a" stroke-width="0.25">0.1</text>
<line x1="255.00" y1="389.56" x2="257.50" y2="389.56" stroke="#a0a0a0" stroke-width="1"/>
<text x="251.00" y="392.06" font-size="7.0" text-anchor="end" fill="#1a1a1a" textLength="9.20" lengthAdjust="spacingAndGlyphs" stroke="#1a1a1a" stroke-width="0.25">0.2</text>
<line x1="255.00" y1="375.64" x2="257.50" y2="375.64" stroke="#a0a0a0" stroke-width="1"/>
<text x="251.00" y="378.14" font-size="7.0" text-anchor="end" fill="#1a1a1a" textLength="9.20" lengthAdjust="spacingAndGlyphs" stroke="#1a1a1a" stroke-width="0.25">0.3</text>
<line x1="255.00" y1="361.72" x2="257.50" y2="361.72" stroke="#a0a0a0" stroke-width="1"/>
<text x="251.00" y="364.22" font-size="7.0" text-anchor="end" fill="#1a1a1a" textLength="9.20" lengthAdjust="spacingAndGlyphs" stroke="#1a1a1a" stroke-width="0.25">0.4</text>
<line x1="255.00" y1="347.80" x2="257.50" y2="347.80" stroke="#a0a0a0" stroke-width="1"/>
<text x="251.00" y="350.30" font-size="7.0" text-anchor="end" fill="#1a1a1a" textLength="9.20" lengthAdjust="spacingAndGlyphs" stroke="#1a1a1a" stroke-width="0.25">0.5</text>
<line x1="255.00" y1="333.88" x2="257.50" y2="333.88" stroke="#a0a0a0" stroke-width="1"/>
<text x="251.00" y="336.38" font-size="7.0" text-anchor="end" fill="#1a1a1a" textLength="9.20" lengthAdjust="spacingAndGlyphs" stroke="#1a1a1a" stroke-width="0.25">0.6</text>
<line x1="255.00" y1="319.96" x2="257.50" y2="319.96" stroke="#a0a0a0" stroke-width="1"/>
<text x="251.00" y="322.46" font-size="7.0" text-anchor="end" fill="#1a1a1a" textLength="9.20" lengthAdjust="spacingAndGlyphs" stroke="#1a1a1a" stroke-width="0.25">0.7</text>
<line x1="255.00" y1="306.04" x2="257.50" y2="306.04" stroke="#a0a0a0" stroke-width="1"/>
<text x="251.00" y="308.54" font-size="7.0" text-anchor="end" fill="#1a1a1a" textLength="9.20" lengthAdjust="spacingAndGlyphs" stroke="#1a1a1a" stroke-width="0.25">0.8</text>
<line x1="255.00" y1="292.12" x2="257.50" y2="292.12" stroke="#a0a0a0" stroke-width="1"/>
<text x="251.00" y="294.62" font-size="7.0" text-anchor="end" fill="#1a1a1a" textLength="9.20" lengthAdjust="spacingAndGlyphs" stroke="#1a1a1a" stroke-width="0.25">0.9</text>
<line x1="255.00" y1="278.20" x2="257.50" y2="278.20" stroke="#a0a0a0" stroke-width="1"/>
<text x="251.00" y="280.70" font-size="7.0" text-anchor="end" fill="#1a1a1a" textLength="2.60" lengthAdjust="spacingAndGlyphs" stroke="#1a1a1a" stroke-width="0.25">1</text>
<line x1="257.50" y1="417.40" x2="429.50" y2="417.40" stroke="#a0a0a0" stroke-width="1"/>
<line x1="257.50" y1="417.40" x2="257.50" y2="419.90" stroke="#a0a0a0" stroke-width="1"/>
<line x1="300.50" y1="417.40" x2="300.50" y2="419.90" stroke="#a0a0a0" stroke-width="1"/>
<line x1="343.50" y1="417.40" x2="343.50" y2="419.90" stroke="#a0a0a0" stroke-width="1"/>
<line x1="386.50" y1="417.40" x2="386.50" y2="419.90" stroke="#a0a0a0" stroke-width="1"/>
<line x1="429.50" y1="417.40" x2="429.50" y2="419.90" stroke="#a0a0a0" stroke-width="1"/>
<text x="261.80" y="433.00" font-size="8.2" text-anchor="middle" font-weight="bold" textLength="8.80" lengthAdjust="spacingAndGlyphs">0h</text>
<text x="302.00" y="434.60" font-size="8.2" text-anchor="middle" font-weight="bold" textLength="13.60" lengthAdjust="spacingAndGlyphs">12h</text>
<text x="343.60" y="434.60" font-size="8.2" text-anchor="middle" font-weight="bold" textLength="13.60" lengthAdjust="spacingAndGlyphs">24h</text>
<text x="386.40" y="434.60" font-size="8.2" text-anchor="middle" font-weight="bold" textLength="13.60" lengthAdjust="spacingAndGlyphs">36h</text>
<text x="429.20" y="434.60" font-size="8.2" text-anchor="middle" font-weight="bold" textLength="13.60" lengthAdjust="spacingAndGlyphs">48h</text>
<text x="235.40" y="351.20" font-size="8.2" text-anchor="middle" textLength="92.50" lengthAdjust="spacingAndGlyphs" transform="rotate(-90 235.40 351.20)">Ralative Width of Scratch</text>
<path d="M257.50 278.20 L300.50 335.27 L343.50 364.50 L386.50 378.42 L429.50 403.48" fill="none" stroke="#222" stroke-width="1.8" stroke-linejoin="round"/>
<path d="M257.50 275.60 L260.10 278.20 L257.50 280.80 L254.90 278.20 Z" fill="#1a1a1a"/>
<path d="M300.50 332.67 L303.10 335.27 L300.50 337.87 L297.90 335.27 Z" fill="#1a1a1a"/>
<path d="M343.50 361.90 L346.10 364.50 L343.50 367.10 L340.90 364.50 Z" fill="#1a1a1a"/>
<path d="M386.50 375.82 L389.10 378.42 L386.50 381.02 L383.90 378.42 Z" fill="#1a1a1a"/>
<path d="M429.50 400.88 L432.10 403.48 L429.50 406.08 L426.90 403.48 Z" fill="#1a1a1a"/>
<path d="M257.50 278.20 L300.50 322.74 L343.50 335.27 L386.50 350.58 L429.50 365.90" fill="none" stroke="#222" stroke-width="1.8" stroke-linejoin="round"/>
<circle cx="257.50" cy="278.20" r="3.00" fill="#1a1a1a"/>
<circle cx="300.50" cy="322.74" r="3.00" fill="#1a1a1a"/>
<circle cx="343.50" cy="335.27" r="3.00" fill="#1a1a1a"/>
<circle cx="386.50" cy="350.58" r="3.00" fill="#1a1a1a"/>
<circle cx="429.50" cy="365.90" r="3.00" fill="#1a1a1a"/>
<path d="M257.50 278.20 L300.50 308.82 L343.50 331.10 L386.50 347.80 L429.50 363.11" fill="none" stroke="#222" stroke-width="1.8" stroke-linejoin="round"/>
<path d="M257.50 275.30 L260.30 280.20 L254.70 280.20 Z" fill="#1a1a1a"/>
<path d="M300.50 305.92 L303.30 310.82 L297.70 310.82 Z" fill="#1a1a1a"/>
<path d="M343.50 328.20 L346.30 333.10 L340.70 333.10 Z" fill="#1a1a1a"/>
<path d="M386.50 344.90 L389.30 349.80 L383.70 349.80 Z" fill="#1a1a1a"/>
<path d="M429.50 360.21 L432.30 365.11 L426.70 365.11 Z" fill="#1a1a1a"/>
<path d="M257.50 278.20 L300.50 296.30 L343.50 307.43 L386.50 331.10 L429.50 360.33" fill="none" stroke="#222" stroke-width="1.8" stroke-linejoin="round"/>
<rect x="254.30" y="275.00" width="6.40" height="6.40" fill="#1a1a1a"/>
<rect x="297.30" y="293.10" width="6.40" height="6.40" fill="#1a1a1a"/>
<rect x="340.30" y="304.23" width="6.40" height="6.40" fill="#1a1a1a"/>
<rect x="383.30" y="327.90" width="6.40" height="6.40" fill="#1a1a1a"/>
<rect x="426.30" y="357.13" width="6.40" height="6.40" fill="#1a1a1a"/>
<line x1="502.80" y1="282.70" x2="502.80" y2="419.20" stroke="#a0a0a0" stroke-width="1"/>
<line x1="500.30" y1="419.20" x2="502.80" y2="419.20" stroke="#a0a0a0" stroke-width="1"/>
<text x="496.00" y="421.70" font-size="7.0" text-anchor="end" fill="#1a1a1a" textLength="4.00" lengthAdjust="spacingAndGlyphs" stroke="#1a1a1a" stroke-width="0.25">0</text>
<line x1="500.30" y1="405.55" x2="502.80" y2="405.55" stroke="#a0a0a0" stroke-width="1"/>
<text x="496.00" y="408.05" font-size="7.0" text-anchor="end" fill="#1a1a1a" textLength="9.20" lengthAdjust="spacingAndGlyphs" stroke="#1a1a1a" stroke-width="0.25">0.1</text>
<line x1="500.30" y1="391.90" x2="502.80" y2="391.90" stroke="#a0a0a0" stroke-width="1"/>
<text x="496.00" y="394.40" font-size="7.0" text-anchor="end" fill="#1a1a1a" textLength="9.20" lengthAdjust="spacingAndGlyphs" stroke="#1a1a1a" stroke-width="0.25">0.2</text>
<line x1="500.30" y1="378.25" x2="502.80" y2="378.25" stroke="#a0a0a0" stroke-width="1"/>
<text x="496.00" y="380.75" font-size="7.0" text-anchor="end" fill="#1a1a1a" textLength="9.20" lengthAdjust="spacingAndGlyphs" stroke="#1a1a1a" stroke-width="0.25">0.3</text>
<line x1="500.30" y1="364.60" x2="502.80" y2="364.60" stroke="#a0a0a0" stroke-width="1"/>
<text x="496.00" y="367.10" font-size="7.0" text-anchor="end" fill="#1a1a1a" textLength="9.20" lengthAdjust="spacingAndGlyphs" stroke="#1a1a1a" stroke-width="0.25">0.4</text>
<line x1="500.30" y1="350.95" x2="502.80" y2="350.95" stroke="#a0a0a0" stroke-width="1"/>
<text x="496.00" y="353.45" font-size="7.0" text-anchor="end" fill="#1a1a1a" textLength="9.20" lengthAdjust="spacingAndGlyphs" stroke="#1a1a1a" stroke-width="0.25">0.5</text>
<line x1="500.30" y1="337.30" x2="502.80" y2="337.30" stroke="#a0a0a0" stroke-width="1"/>
<text x="496.00" y="339.80" font-size="7.0" text-anchor="end" fill="#1a1a1a" textLength="9.20" lengthAdjust="spacingAndGlyphs" stroke="#1a1a1a" stroke-width="0.25">0.6</text>
<line x1="500.30" y1="323.65" x2="502.80" y2="323.65" stroke="#a0a0a0" stroke-width="1"/>
<text x="496.00" y="326.15" font-size="7.0" text-anchor="end" fill="#1a1a1a" textLength="9.20" lengthAdjust="spacingAndGlyphs" stroke="#1a1a1a" stroke-width="0.25">0.7</text>
<line x1="500.30" y1="310.00" x2="502.80" y2="310.00" stroke="#a0a0a0" stroke-width="1"/>
<text x="496.00" y="312.50" font-size="7.0" text-anchor="end" fill="#1a1a1a" textLength="9.20" lengthAdjust="spacingAndGlyphs" stroke="#1a1a1a" stroke-width="0.25">0.8</text>
<line x1="500.30" y1="296.35" x2="502.80" y2="296.35" stroke="#a0a0a0" stroke-width="1"/>
<text x="496.00" y="298.85" font-size="7.0" text-anchor="end" fill="#1a1a1a" textLength="9.20" lengthAdjust="spacingAndGlyphs" stroke="#1a1a1a" stroke-width="0.25">0.9</text>
<line x1="500.30" y1="282.70" x2="502.80" y2="282.70" stroke="#a0a0a0" stroke-width="1"/>
<text x="496.00" y="285.20" font-size="7.0" text-anchor="end" fill="#1a1a1a" textLength="2.60" lengthAdjust="spacingAndGlyphs" stroke="#1a1a1a" stroke-width="0.25">1</text>
<line x1="502.80" y1="419.20" x2="674.80" y2="419.20" stroke="#a0a0a0" stroke-width="1"/>
<line x1="502.80" y1="419.20" x2="502.80" y2="421.70" stroke="#a0a0a0" stroke-width="1"/>
<line x1="545.80" y1="419.20" x2="545.80" y2="421.70" stroke="#a0a0a0" stroke-width="1"/>
<line x1="588.80" y1="419.20" x2="588.80" y2="421.70" stroke="#a0a0a0" stroke-width="1"/>
<line x1="631.80" y1="419.20" x2="631.80" y2="421.70" stroke="#a0a0a0" stroke-width="1"/>
<line x1="674.80" y1="419.20" x2="674.80" y2="421.70" stroke="#a0a0a0" stroke-width="1"/>
<text x="502.40" y="433.50" font-size="8.2" text-anchor="middle" font-weight="bold" textLength="8.80" lengthAdjust="spacingAndGlyphs">0h</text>
<text x="544.00" y="435.10" font-size="8.2" text-anchor="middle" font-weight="bold" textLength="13.60" lengthAdjust="spacingAndGlyphs">12h</text>
<text x="584.60" y="435.10" font-size="8.2" text-anchor="middle" font-weight="bold" textLength="13.60" lengthAdjust="spacingAndGlyphs">24h</text>
<text x="627.40" y="435.10" font-size="8.2" text-anchor="middle" font-weight="bold" textLength="13.60" lengthAdjust="spacingAndGlyphs">36h</text>
<text x="670.20" y="435.10" font-size="8.2" text-anchor="middle" font-weight="bold" textLength="13.60" lengthAdjust="spacingAndGlyphs">48h</text>
<text x="476.10" y="353.60" font-size="8.2" text-anchor="middle" textLength="93.80" lengthAdjust="spacingAndGlyphs" transform="rotate(-90 476.10 353.60)">Ralative Width of Scratch</text>
<path d="M502.80 282.70 L545.80 365.96 L588.80 389.17 L631.80 404.19 L674.80 419.20" fill="none" stroke="#222" stroke-width="1.8" stroke-linejoin="round"/>
<path d="M502.80 280.10 L505.40 282.70 L502.80 285.30 L500.20 282.70 Z" fill="#1a1a1a"/>
<path d="M545.80 363.36 L548.40 365.96 L545.80 368.56 L543.20 365.96 Z" fill="#1a1a1a"/>
<path d="M588.80 386.57 L591.40 389.17 L588.80 391.77 L586.20 389.17 Z" fill="#1a1a1a"/>
<path d="M631.80 401.58 L634.40 404.19 L631.80 406.79 L629.20 404.19 Z" fill="#1a1a1a"/>
<path d="M674.80 416.60 L677.40 419.20 L674.80 421.80 L672.20 419.20 Z" fill="#1a1a1a"/>
<path d="M502.80 282.70 L545.80 327.75 L588.80 353.68 L631.80 364.60 L674.80 382.34" fill="none" stroke="#222" stroke-width="1.8" stroke-linejoin="round"/>
<circle cx="502.80" cy="282.70" r="3.00" fill="#1a1a1a"/>
<circle cx="545.80" cy="327.75" r="3.00" fill="#1a1a1a"/>
<circle cx="588.80" cy="353.68" r="3.00" fill="#1a1a1a"/>
<circle cx="631.80" cy="364.60" r="3.00" fill="#1a1a1a"/>
<circle cx="674.80" cy="382.34" r="3.00" fill="#1a1a1a"/>
<path d="M502.80 282.70 L545.80 323.65 L588.80 338.66 L631.80 357.77 L674.80 378.25" fill="none" stroke="#222" stroke-width="1.8" stroke-linejoin="round"/>
<path d="M502.80 279.80 L505.60 284.70 L500.00 284.70 Z" fill="#1a1a1a"/>
<path d="M545.80 320.75 L548.60 325.65 L543.00 325.65 Z" fill="#1a1a1a"/>
<path d="M588.80 335.76 L591.60 340.66 L586.00 340.66 Z" fill="#1a1a1a"/>
<path d="M631.80 354.88 L634.60 359.77 L629.00 359.77 Z" fill="#1a1a1a"/>
<path d="M674.80 375.35 L677.60 380.25 L672.00 380.25 Z" fill="#1a1a1a"/>
<path d="M502.80 282.70 L545.80 310.00 L588.80 322.28 L631.80 338.66 L674.80 353.68" fill="none" stroke="#222" stroke-width="1.8" stroke-linejoin="round"/>
<rect x="499.60" y="279.50" width="6.40" height="6.40" fill="#1a1a1a"/>
<rect x="542.60" y="306.80" width="6.40" height="6.40" fill="#1a1a1a"/>
<rect x="585.60" y="319.08" width="6.40" height="6.40" fill="#1a1a1a"/>
<rect x="628.60" y="335.46" width="6.40" height="6.40" fill="#1a1a1a"/>
<rect x="671.60" y="350.48" width="6.40" height="6.40" fill="#1a1a1a"/>
<line x1="364.50" y1="262.60" x2="380.00" y2="262.60" stroke="#1a1a1a" stroke-width="1.9"/>
<path d="M372.25 260.65 L374.20 262.60 L372.25 264.55 L370.30 262.60 Z" fill="#1a1a1a"/>
<text x="385.90" y="264.90" font-size="6.5" fill="#1a1a1a" textLength="10.10" lengthAdjust="spacingAndGlyphs" stroke="#1a1a1a" stroke-width="0.25">TE1</text>
<line x1="364.50" y1="276.30" x2="380.00" y2="276.30" stroke="#1a1a1a" stroke-width="1.9"/>
<rect x="369.85" y="273.90" width="4.80" height="4.80" fill="#1a1a1a"/>
<text x="385.20" y="277.70" font-size="6.5" fill="#1a1a1a" textLength="38.00" lengthAdjust="spacingAndGlyphs" stroke="#1a1a1a" stroke-width="0.25">5-Aza-Dc/TE1</text>
<line x1="364.50" y1="290.40" x2="380.00" y2="290.40" stroke="#1a1a1a" stroke-width="1.9"/>
<path d="M372.25 288.22 L374.35 291.90 L370.15 291.90 Z" fill="#1a1a1a"/>
<text x="384.70" y="291.20" font-size="6.5" fill="#1a1a1a" textLength="61.30" lengthAdjust="spacingAndGlyphs" stroke="#1a1a1a" stroke-width="0.25">pcDNA3.1-DACT1/TE1</text>
<line x1="364.50" y1="303.40" x2="380.00" y2="303.40" stroke="#1a1a1a" stroke-width="1.9"/>
<circle cx="372.25" cy="303.40" r="2.25" fill="#1a1a1a"/>
<text x="386.40" y="305.20" font-size="6.5" fill="#1a1a1a" textLength="53.50" lengthAdjust="spacingAndGlyphs" stroke="#1a1a1a" stroke-width="0.25">pCMV6 -DACT2/TE1</text>
<line x1="600.80" y1="269.40" x2="616.40" y2="269.40" stroke="#1a1a1a" stroke-width="1.9"/>
<path d="M608.60 267.45 L610.55 269.40 L608.60 271.35 L606.65 269.40 Z" fill="#1a1a1a"/>
<text x="620.50" y="271.60" font-size="6.5" fill="#1a1a1a" textLength="13.50" lengthAdjust="spacingAndGlyphs" stroke="#1a1a1a" stroke-width="0.25">TE13</text>
<line x1="600.80" y1="282.60" x2="616.40" y2="282.60" stroke="#1a1a1a" stroke-width="1.9"/>
<rect x="606.20" y="280.20" width="4.80" height="4.80" fill="#1a1a1a"/>
<text x="620.20" y="283.80" font-size="6.5" fill="#1a1a1a" textLength="41.20" lengthAdjust="spacingAndGlyphs" stroke="#1a1a1a" stroke-width="0.25">5-Aza-Dc/TE13</text>
<line x1="600.80" y1="297.20" x2="616.40" y2="297.20" stroke="#1a1a1a" stroke-width="1.9"/>
<path d="M608.60 295.02 L610.70 298.70 L606.50 298.70 Z" fill="#1a1a1a"/>
<text x="619.00" y="298.10" font-size="6.5" fill="#1a1a1a" textLength="65.00" lengthAdjust="spacingAndGlyphs" stroke="#1a1a1a" stroke-width="0.25">pcDNA3.1-DACT1/TE13</text>
<line x1="600.80" y1="310.60" x2="616.40" y2="310.60" stroke="#1a1a1a" stroke-width="1.9"/>
<circle cx="608.60" cy="310.60" r="2.25" fill="#1a1a1a"/>
<text x="621.20" y="312.00" font-size="6.5" fill="#1a1a1a" textLength="57.30" lengthAdjust="spacingAndGlyphs" stroke="#1a1a1a" stroke-width="0.25">pCMV6 -DACT2/TE13</text>
</svg>
</body></html>
